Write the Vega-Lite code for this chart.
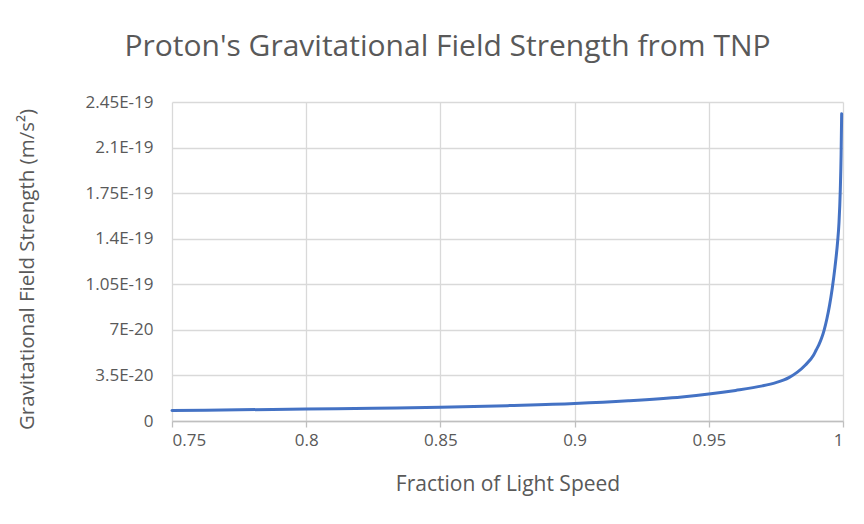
{
  "$schema": "https://vega.github.io/schema/vega-lite/v6.json",
  "width": 671,
  "height": 319,
  "autosize": {"type": "none"},
  "padding": {"left": 172, "top": 102, "right": 21, "bottom": 103},
  "background": "white",
  "title": {
    "text": "Proton's Gravitational Field Strength from TNP",
    "font": "Open Sans",
    "fontSize": 30,
    "fontWeight": "normal",
    "color": "#595959",
    "anchor": "middle",
    "dx": -60,
    "offset": 31
  },
  "data": {
    "values": [
      {"v": 0.75, "g": 8.0e-21},
      {"v": 0.775, "g": 8.6e-21},
      {"v": 0.8, "g": 9.2e-21},
      {"v": 0.825, "g": 9.8e-21},
      {"v": 0.85, "g": 1.05e-20},
      {"v": 0.875, "g": 1.18e-20},
      {"v": 0.9, "g": 1.34e-20},
      {"v": 0.92, "g": 1.55e-20},
      {"v": 0.94, "g": 1.85e-20},
      {"v": 0.95, "g": 2.07e-20},
      {"v": 0.96, "g": 2.35e-20},
      {"v": 0.97, "g": 2.7e-20},
      {"v": 0.975, "g": 2.95e-20},
      {"v": 0.978, "g": 3.15e-20},
      {"v": 0.98, "g": 3.35e-20},
      {"v": 0.983, "g": 3.75e-20},
      {"v": 0.986, "g": 4.3e-20},
      {"v": 0.989, "g": 5.05e-20},
      {"v": 0.99, "g": 5.45e-20},
      {"v": 0.991, "g": 5.85e-20},
      {"v": 0.992, "g": 6.35e-20},
      {"v": 0.993, "g": 7.0e-20},
      {"v": 0.994, "g": 7.85e-20},
      {"v": 0.995, "g": 8.9e-20},
      {"v": 0.996, "g": 1.02e-19},
      {"v": 0.997, "g": 1.18e-19},
      {"v": 0.998, "g": 1.38e-19},
      {"v": 0.9985, "g": 1.52e-19},
      {"v": 0.999, "g": 1.78e-19},
      {"v": 0.9993, "g": 2.05e-19},
      {"v": 0.9995, "g": 2.36e-19}
    ]
  },
  "mark": {"type": "line", "color": "#4472C4", "strokeWidth": 3, "interpolate": "monotone", "strokeCap": "round"},
  "encoding": {
    "x": {
      "field": "v",
      "type": "quantitative",
      "scale": {"domain": [0.75, 1], "nice": false, "zero": false},
      "axis": {
        "title": "Fraction of Light Speed",
        "values": [0.75, 0.8, 0.85, 0.9, 0.95, 1],
        "format": "~g",
        "grid": true,
        "gridColor": "#d9d9d9",
        "gridWidth": 1.3,
        "domainColor": "#bfbfbf",
        "domainWidth": 1.3,
        "tickColor": "#bfbfbf",
        "tickSize": 6,
        "tickWidth": 1.3,
        "labelFont": "Open Sans",
        "labelFontSize": 17,
        "labelColor": "#595959",
        "labelPadding": 5,
        "titleFont": "Open Sans",
        "titleFontSize": 21,
        "titleFontWeight": "normal",
        "titleColor": "#595959",
        "titlePadding": 25
      }
    },
    "y": {
      "field": "g",
      "type": "quantitative",
      "scale": {"domain": [0, 2.45e-19], "nice": false},
      "axis": {
        "title": "Gravitational Field Strength (m/s²)",
        "values": [0, 3.5e-20, 7e-20, 1.05e-19, 1.4e-19, 1.75e-19, 2.1e-19, 2.45e-19],
        "labelExpr": "datum.value == 0 ? '0' : upper(format(datum.value, '.6~e'))",
        "grid": true,
        "gridColor": "#d9d9d9",
        "gridWidth": 1.3,
        "domain": false,
        "ticks": false,
        "labelFont": "Open Sans",
        "labelFontSize": 17,
        "labelColor": "#595959",
        "labelPadding": 19,
        "titleFont": "Open Sans",
        "titleFontSize": 20.5,
        "titleFontWeight": "normal",
        "titleColor": "#595959",
        "titleX": -145,
        "titleY": 167,
        "titleAngle": -90,
        "titleAlign": "center",
        "titleBaseline": "middle"
      }
    }
  },
  "config": {"view": {"stroke": null}}
}
